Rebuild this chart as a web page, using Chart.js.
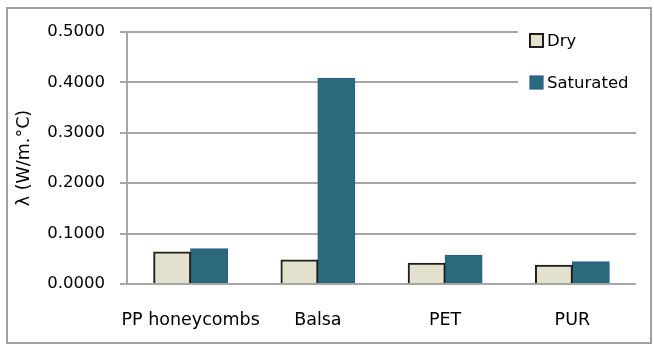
<!DOCTYPE html>
<html>
<head>
<meta charset="utf-8">
<script src="https://cdn.jsdelivr.net/npm/chart.js@4"></script>
<style>
  html, body { margin: 0; padding: 0; background: #fff; }
  #wrap { width: 654px; height: 347px; position: relative; }
</style>
</head>
<body>
<div id="wrap"><canvas id="c" width="654" height="347"></canvas></div>
<script>
// Thermal conductivity of core materials, dry vs. water-saturated
const categories = ['PP honeycombs', 'Balsa', 'PET', 'PUR'];
const dryValues = [0.0635, 0.0476, 0.0410, 0.0370];
const saturatedValues = [0.0700, 0.4080, 0.0570, 0.0440];
const seriesNames = ['Dry', 'Saturated'];
const yTicks = [0, 0.1, 0.2, 0.3, 0.4, 0.5];

const FONT = 'DejaVu Sans';
const GRID = '#a6a6a6';

// Outer frame around the whole chart
const framePlugin = {
  id: 'frame',
  beforeDraw(chart) {
    const ctx = chart.ctx;
    ctx.save();
    ctx.fillStyle = '#fff';
    ctx.fillRect(0, 0, chart.width, chart.height);
    ctx.strokeStyle = '#a0a0a0';
    ctx.lineWidth = 2;
    ctx.strokeRect(7, 8, 644, 335);
    ctx.restore();
  }
};

// Legend drawn inside the plot's top-right corner on a white panel
const cornerLegend = {
  id: 'cornerLegend',
  afterDraw(chart) {
    const ctx = chart.ctx;
    const area = chart.chartArea;
    const x0 = area.right - 118;
    ctx.save();
    ctx.fillStyle = '#fff';
    ctx.fillRect(x0, area.top - 10, 126, 78);
    ctx.font = '16.5px "' + FONT + '"';
    ctx.textBaseline = 'middle';
    chart.data.datasets.forEach((ds, i) => {
      const cy = area.top + 8.5 + i * 42;
      const bx = x0 + 12;
      ctx.fillStyle = ds.backgroundColor;
      ctx.fillRect(bx, cy - 6.5, 13, 13);
      ctx.strokeStyle = ds.borderColor;
      ctx.lineWidth = i === 0 ? 2 : 1.2;
      ctx.strokeRect(bx, cy - 6.5, 13, 13);
      ctx.fillStyle = '#000';
      ctx.fillText(ds.label, bx + 17, cy + 1);
    });
    ctx.restore();
  }
};

new Chart(document.getElementById('c'), {
  type: 'bar',
  data: {
    labels: categories,
    datasets: [
      {
        label: seriesNames[0],
        data: dryValues,
        backgroundColor: '#e3e0cd',
        borderColor: '#1e1e1a',
        borderWidth: 2
      },
      {
        label: seriesNames[1],
        data: saturatedValues,
        backgroundColor: '#2a6a7a',
        borderColor: '#2c5e92',
        borderWidth: 1.2
      }
    ]
  },
  options: {
    responsive: false,
    animation: false,
    devicePixelRatio: 1,
    layout: { padding: { left: 0, top: 32, right: 18, bottom: 0 } },
    datasets: {
      bar: { categoryPercentage: 0.58, barPercentage: 1.0, inflateAmount: 0.5 }
    },
    plugins: {
      legend: { display: false },
      tooltip: { enabled: false }
    },
    scales: {
      x: {
        grid: { display: false, drawTicks: false },
        border: { display: false },
        ticks: {
          color: '#000',
          font: { family: FONT, size: 17.5 },
          padding: 26,
          maxRotation: 0,
          autoSkip: false
        },
        afterFit(scale) { scale.height = 63; }
      },
      y: {
        min: 0,
        max: 0.5,
        afterBuildTicks(scale) {
          scale.ticks = yTicks.map(v => ({ value: v }));
        },
        grid: {
          color: GRID,
          lineWidth: 2,
          drawTicks: true,
          tickLength: 7,
          tickColor: GRID
        },
        border: { display: true, color: GRID, width: 2 },
        ticks: {
          color: '#000',
          font: { family: FONT, size: 16.5 },
          padding: 15,
          callback: v => Number(v).toFixed(4)
        },
        title: {
          display: true,
          text: 'λ (W/m.°C)',
          color: '#000',
          font: { family: FONT, size: 17.5 },
          padding: { top: 14, bottom: 0 }
        },
        afterFit(scale) { scale.width = 127; }
      }
    }
  },
  plugins: [framePlugin, cornerLegend]
});
</script>
</body>
</html>
